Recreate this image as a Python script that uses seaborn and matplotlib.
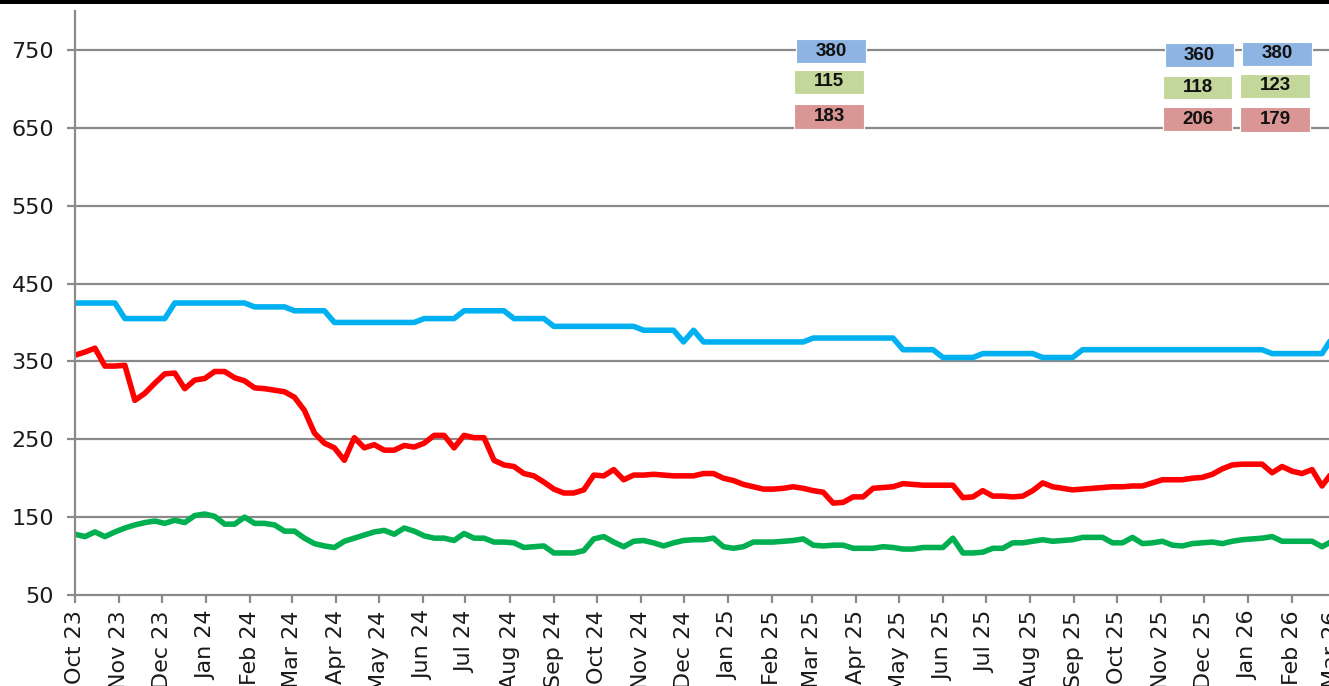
import matplotlib
matplotlib.use("Agg")
import matplotlib.pyplot as plt
import matplotlib.dates as mdates
from matplotlib.patches import Rectangle
import pandas as pd
import seaborn as sns

# weekly observations, Oct 2023 - Mar 2026
weeks = pd.date_range("2023-10-01", "2026-03-01", freq="7D")

blue_values = [
    425, 425, 425, 425, 425, 405, 405, 405, 405, 405,
    425, 425, 425, 425, 425, 425, 425, 425, 420, 420,
    420, 420, 415, 415, 415, 415, 400, 400, 400, 400,
    400, 400, 400, 400, 400, 405, 405, 405, 405, 415,
    415, 415, 415, 415, 405, 405, 405, 405, 395, 395,
    395, 395, 395, 395, 395, 395, 395, 390, 390, 390,
    390, 375, 390, 375, 375, 375, 375, 375, 375, 375,
    375, 375, 375, 375, 380, 380, 380, 380, 380, 380,
    380, 380, 380, 365, 365, 365, 365, 355, 355, 355,
    355, 360, 360, 360, 360, 360, 360, 355, 355, 355,
    355, 365, 365, 365, 365, 365, 365, 365, 365, 365,
    365, 365, 365, 365, 365, 365, 365, 365, 365, 365,
    360, 360, 360, 360, 360, 360, 380,
]

red_values = [
    358, 362, 367, 344, 344, 345, 300, 309, 322, 334,
    335, 315, 326, 328, 337, 337, 329, 325, 316, 315,
    313, 311, 304, 287, 258, 245, 239, 223, 252, 239,
    243, 236, 236, 242, 240, 245, 255, 255, 239, 255,
    252, 252, 223, 217, 215, 206, 203, 195, 186, 181,
    181, 185, 204, 203, 211, 198, 204, 204, 205, 204,
    203, 203, 203, 206, 206, 200, 197, 192, 189, 186,
    186, 187, 189, 187, 184, 182, 168, 169, 176, 176,
    187, 188, 189, 193, 192, 191, 191, 191, 191, 175,
    176, 184, 177, 177, 176, 177, 184, 194, 189, 187,
    185, 186, 187, 188, 189, 189, 190, 190, 194, 198,
    198, 198, 200, 201, 205, 212, 217, 218, 218, 218,
    207, 215, 209, 206, 211, 190, 207,
]

green_values = [
    128, 125, 131, 125, 131, 136, 140, 143, 145, 142,
    146, 143, 152, 154, 151, 141, 141, 150, 142, 142,
    140, 132, 132, 123, 116, 113, 111, 119, 123, 127,
    131, 133, 128, 136, 132, 126, 123, 123, 120, 129,
    123, 123, 118, 118, 117, 111, 112, 113, 104, 104,
    104, 107, 122, 125, 118, 112, 119, 120, 117, 113,
    117, 120, 121, 121, 123, 112, 110, 112, 118, 118,
    118, 119, 120, 122, 114, 113, 114, 114, 110, 110,
    110, 112, 111, 109, 109, 111, 111, 111, 123, 104,
    104, 105, 110, 110, 117, 117, 119, 121, 119, 120,
    121, 124, 124, 124, 117, 117, 124, 116, 117, 119,
    114, 113, 116, 117, 118, 116, 119, 121, 122, 123,
    125, 119, 119, 119, 119, 112, 119,
]

# value boxes printed in the top area (blue / green / red)
box_blue = ["380", "360", "380"]
box_green = ["115", "118", "123"]
box_red = ["183", "206", "179"]

line_colors = {"blue": "#00B0F0", "red": "#FF0000", "green": "#00B050"}
box_colors = {"blue": "#8DB4E2", "green": "#C4D79B", "red": "#DA9694"}

df = pd.concat([
    pd.DataFrame({"week": weeks, "value": blue_values, "series": "blue"}),
    pd.DataFrame({"week": weeks, "value": red_values, "series": "red"}),
    pd.DataFrame({"week": weeks, "value": green_values, "series": "green"}),
])

sns.set_style("white")
plt.rcParams["font.family"] = ["DejaVu Sans"]

W, H = 1329, 686
fig = plt.figure(figsize=(W / 100, H / 100), dpi=100)
ax = fig.add_axes([75 / W, (H - 595) / H, (1332 - 75) / W, (595 - 11) / H])

sns.lineplot(
    data=df,
    x="week",
    y="value",
    hue="series",
    palette=line_colors,
    linewidth=4.0,
    legend=False,
    ax=ax
)

grid_col = "#8a8a8a"
ax.set_ylim(50, 800)
ax.set_yticks(range(50, 800, 100))
ax.set_xlim(pd.Timestamp("2023-10-01"), pd.Timestamp("2026-03-01"))
ax.xaxis.set_major_locator(mdates.MonthLocator())
ax.xaxis.set_major_formatter(mdates.DateFormatter("%b %y"))

for y in range(150, 800, 100):
    ax.axhline(y, color=grid_col, linewidth=1.6, zorder=0)

ax.set_xlabel("")
ax.set_ylabel("")
for side in ["top", "right"]:
    ax.spines[side].set_visible(False)
for side in ["left", "bottom"]:
    ax.spines[side].set_color(grid_col)
    ax.spines[side].set_linewidth(1.6)

ax.tick_params(axis="y", direction="out", length=6, width=1.6,
               color=grid_col, labelsize=16, pad=9, labelcolor="#1a1a1a", left=True)
ax.tick_params(axis="x", direction="out", length=6, width=1.6,
               color=grid_col, labelsize=16, pad=5, labelcolor="#1a1a1a",
               labelrotation=90, bottom=True)

# top black band
fig.add_artist(Rectangle((0, 1 - 4 / H), 1, 4 / H, transform=fig.transFigure,
                         facecolor="black", edgecolor="none"))


def add_box(x0, y0, x1, y1, text, color):
    fig.add_artist(Rectangle((x0 / W, 1 - y1 / H), (x1 - x0) / W, (y1 - y0) / H,
                             transform=fig.transFigure, facecolor=color,
                             edgecolor="white", linewidth=0.8, zorder=5))
    fig.text((x0 + x1) / 2 / W, 1 - (y0 + y1) / 2 / H, text,
             ha="center", va="center", fontsize=13.5, fontweight="bold",
             family="Liberation Sans", color="#111111", zorder=6)


box_x = [(796, 866), (1165, 1234), (1242, 1312)]
rows_y = [[(39, 63), (70, 94), (104, 129)],
          [(43, 67), (76, 99), (107, 131)],
          [(42, 66), (74, 98), (107, 132)]]
for k, (x0, x1) in enumerate(box_x):
    add_box(x0, rows_y[k][0][0], x1, rows_y[k][0][1], box_blue[k], box_colors["blue"])
    add_box(x0 - 2, rows_y[k][1][0], x1 - 2, rows_y[k][1][1], box_green[k], box_colors["green"])
    add_box(x0 - 2, rows_y[k][2][0], x1 - 2, rows_y[k][2][1], box_red[k], box_colors["red"])

fig.savefig("out.png", dpi=100)
